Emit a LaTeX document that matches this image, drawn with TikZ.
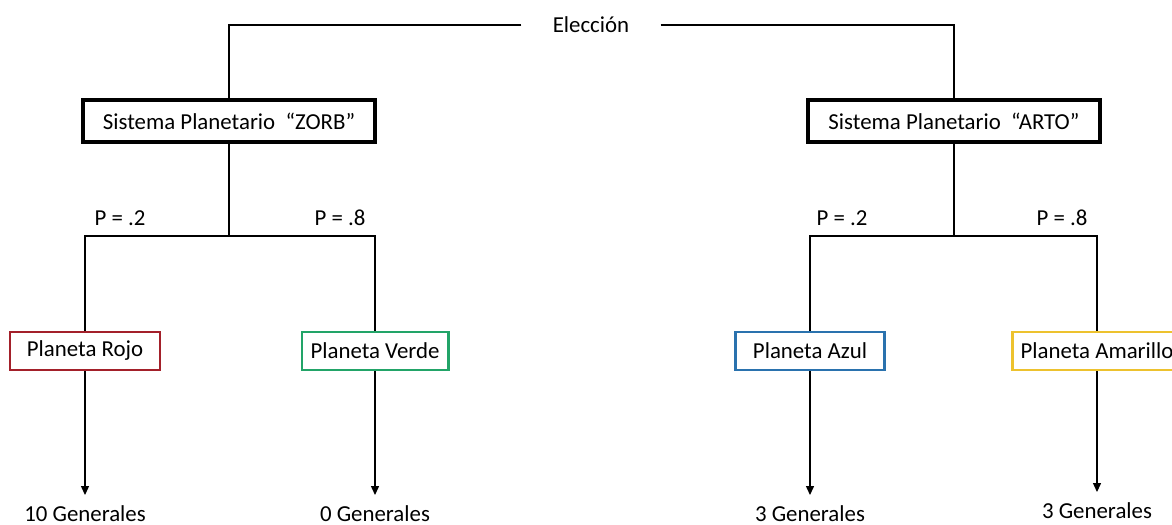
\documentclass[tikz,border=0pt]{standalone}
\usepackage{fontspec}
\setmainfont{Carlito}
\usetikzlibrary{arrows.meta}
\definecolor{myred}{HTML}{A3202A}
\definecolor{mygreen}{HTML}{22A468}
\definecolor{myblue}{HTML}{2A72AE}
\definecolor{myyellow}{HTML}{EDC22E}

\begin{document}
\begin{tikzpicture}[x=0.2mm, y=-0.2mm, font=\fontsize{13}{15}\selectfont,
    sistema/.style={draw, line width=2pt, fill=white, minimum width=58.4mm, minimum height=8.4mm, inner sep=0pt},
    planeta/.style={draw, line width=1.7pt, fill=white, minimum height=7.6mm, inner sep=0pt},
    salida/.style={anchor=north, inner sep=2mm},
    linea/.style={line width=0.6pt},
    flecha/.style={line width=0.6pt, -{Triangle[length=5pt, width=4.5pt]}}]

    \useasboundingbox (0, 0) rectangle (1172, 525);
    \clip (0, 0) rectangle (1172, 525);

    \node[inner xsep=6.2mm] (eleccion) at (591, 25) {Elección};

    \node[sistema] (zorb) at (229, 121) {Sistema Planetario\ \ “ZORB”};
    \node[sistema] (arto) at (954, 121) {Sistema Planetario\ \ “ARTO”};

    \node[planeta, draw=myred, minimum width=30mm] (rojo) at (85, 351) {Planeta Rojo};
    \node[planeta, draw=mygreen, minimum width=29.2mm] (verde) at (375, 351) {Planeta Verde};
    \node[planeta, draw=myblue, minimum width=29.8mm] (azul) at (810, 351) {Planeta Azul};
    \node[planeta, draw=myyellow, minimum width=34mm] (amarillo) at (1097, 351) {Planeta Amarillo};

    \node[salida] (gen1) at (85, 495) {10 Generales};
    \node[salida] (gen2) at (375, 495) {0 Generales};
    \node[salida] (gen3) at (810, 495) {3 Generales};
    \node[salida] (gen4) at (1097, 492) {3 Generales};

    \node (p1) at (120, 218) {P = .2};
    \node (p2) at (340, 218) {P = .8};
    \node (p3) at (842, 218) {P = .2};
    \node (p4) at (1062, 218) {P = .8};

    \coordinate (zj) at (229, 236);
    \coordinate (aj) at (954, 236);

    \draw[linea] (eleccion.west) -| (zorb.north);
    \draw[linea] (eleccion.east) -| (arto.north);

    \draw[linea] (zorb.south) -- (zj);
    \draw[linea] (arto.south) -- (aj);
    \draw[linea] (rojo.north) |- (zj) -| (verde.north);
    \draw[linea] (azul.north) |- (aj) -| (amarillo.north);

    \draw[flecha] (rojo) -- (gen1);
    \draw[flecha] (verde) -- (gen2);
    \draw[flecha] (azul) -- (gen3);
    \draw[flecha] (amarillo) -- (gen4);

\end{tikzpicture}
\end{document}
